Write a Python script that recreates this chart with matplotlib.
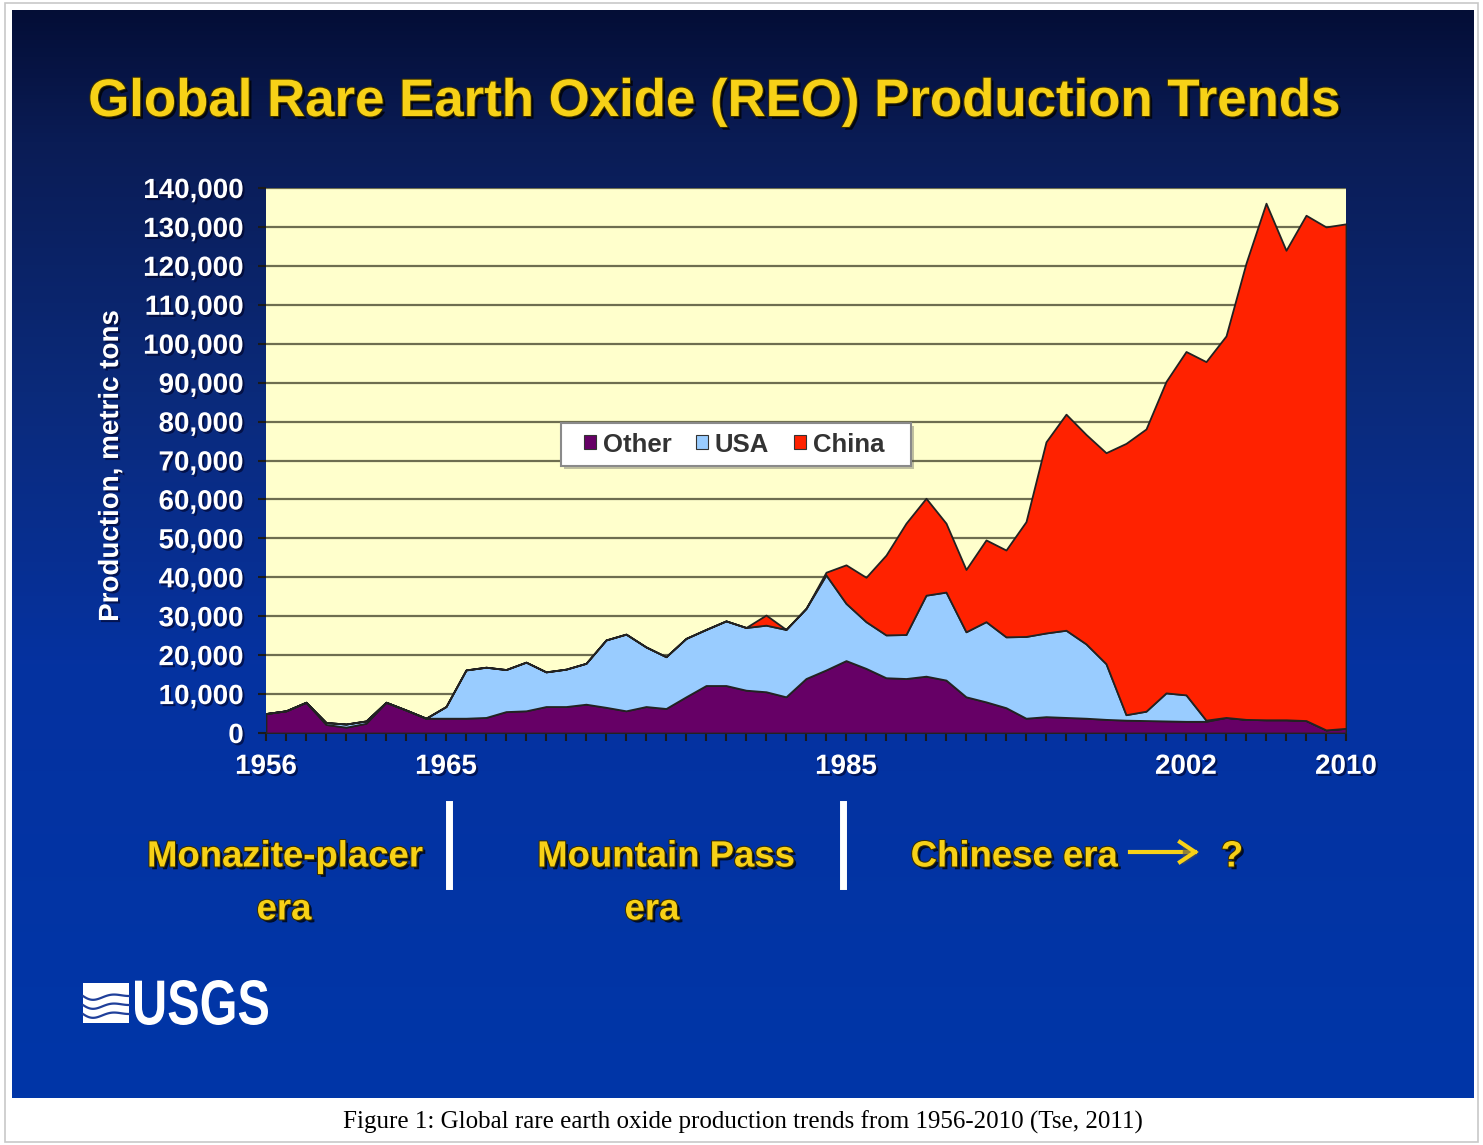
import numpy as np
import matplotlib
matplotlib.use("Agg")
import matplotlib.pyplot as plt
import matplotlib.patheffects as pe
from matplotlib.patches import Patch, Rectangle, PathPatch
from matplotlib.colors import LinearSegmentedColormap
from matplotlib.textpath import TextPath
from matplotlib.font_manager import FontProperties
from matplotlib.transforms import Affine2D, IdentityTransform
from matplotlib.lines import Line2D

# Data (metric tons of REO)
years = list(range(1956, 2011))
other = [5000, 5700, 7900, 2200, 1500, 2500, 7900, 5900, 3800, 3800,
         3800, 4000, 5500, 5700, 6800, 6800, 7400, 6600, 5700, 6800,
         6300, 9300, 12200, 12200, 11000, 10600, 9300, 14000, 16200, 18600,
         16600, 14200, 14000, 14600, 13600, 9300, 8000, 6500, 3800, 4200,
         4000, 3800, 3500, 3300, 3200, 3100, 3000, 3000, 4000, 3500,
         3400, 3400, 3200, 800, 1200]
usa = [0, 0, 0, 500, 800, 600, 0, 0, 0, 3000,
       12400, 12900, 10800, 12500, 8900, 9600, 10500, 17300, 19700, 15300,
       13300, 15000, 14400, 16600, 16100, 17100, 17300, 18000, 24400, 14700,
       12000, 11000, 11300, 20800, 22600, 16700, 20600, 18200, 21000, 21500,
       22400, 19100, 14300, 1400, 2400, 7200, 6800, 300, 0, 0,
       0, 0, 0, 0, 0]
china = [0] * 24 + [0, 2600, 0, 0, 700, 9900,
                    11400, 20500, 28600, 24900, 17700, 16000, 21000, 22300, 29500, 49100,
                    55500, 53800, 54200, 69700, 72500, 80000, 88200, 92100, 98000, 117200,
                    132700, 120600, 129800, 129200, 129600]
series_names = ["Other", "USA", "China"]
series_colors = ["#660066", "#99CCFF", "#FF2200"]
labeled_years = [1956, 1965, 1985, 2002, 2010]
y_ticks = list(range(0, 140001, 10000))

W, H = 1483, 1145


def fx(px):
    return px / W


def fy(py):
    return 1 - py / H


fig = plt.figure(figsize=(W / 100, H / 100), dpi=100)
fig.patch.set_facecolor("white")

# slide background (dark navy -> royal blue)
bg = fig.add_axes([fx(12), fy(1098), fx(1474) - fx(12), fy(10) - fy(1098)])
cmap = LinearSegmentedColormap.from_list(
    "slide", [(0, "#040e36"), (0.12, "#0a1c55"), (0.35, "#0b2a7a"),
              (0.6, "#0532a0"), (1.0, "#0036a8")])
grad = np.linspace(0, 1, 256).reshape(-1, 1)
bg.imshow(grad, aspect="auto", cmap=cmap, extent=[0, 1, 0, 1], origin="upper")
bg.axis("off")
bg.set_zorder(0)

# thin frame around the whole picture
fig.patches.append(Rectangle((fx(5), fy(1142)), fx(1478) - fx(5), fy(3) - fy(1142),
                             fill=False, edgecolor="#c8c8c8", linewidth=1.2,
                             transform=fig.transFigure))

# main chart
ax_w = fx(1346) - fx(266)
ax = fig.add_axes([fx(266), fy(733), ax_w, fy(188) - fy(733)])
ax.set_zorder(2)
ax.set_facecolor("#FFFFCC")
ax.stackplot(years, other, usa, china, colors=series_colors,
             edgecolor="#222222", linewidth=1.3, zorder=3)
ax.set_xlim(1956, 2010)
ax.set_ylim(0, 140000)
ax.set_yticks(y_ticks)
ax.set_yticklabels([f"{v:,}" for v in y_ticks])
ax.set_xticks(years)
ax.set_xticklabels([str(y) if y in labeled_years else "" for y in years])
ax.grid(axis="y", color="#6e6e50", linewidth=1.6, zorder=1)
ax.set_axisbelow(True)
for s in ax.spines.values():
    s.set_visible(False)
ax.tick_params(axis="both", colors="#1a1a1a", length=6, width=1.5)
ax.tick_params(axis="x", pad=9)
ax.tick_params(axis="y", pad=10)
shadow = [pe.withSimplePatchShadow(offset=(1.5, -1.5), shadow_rgbFace="#000022", alpha=0.6)]
for lab in ax.get_xticklabels() + ax.get_yticklabels():
    lab.set_color("white")
    lab.set_fontfamily("Liberation Sans")
    lab.set_fontweight("bold")
    lab.set_fontsize(20)
    lab.set_path_effects(shadow)

ax.set_ylabel("Production, metric tons", color="white", fontfamily="Liberation Sans",
              fontweight="bold", fontsize=20, labelpad=0, path_effects=shadow)
ax.yaxis.set_label_coords((124 - 266) / 1080, 0.49)

# legend: own frame box, entries without frame
ax.add_patch(Rectangle(((561 - 266) / 1080, (733 - 466) / 545), 350 / 1080, 43 / 545,
                       transform=ax.transAxes, facecolor="white", edgecolor="#8a8a8a",
                       linewidth=1.5, zorder=4,
                       path_effects=[pe.withSimplePatchShadow(offset=(2, -2), alpha=0.35)]))
handles = [Patch(facecolor=c, edgecolor="#333333", linewidth=0.8) for c in series_colors]
leg = ax.legend(handles, series_names, loc="center",
                bbox_to_anchor=((734 - 266) / 1080, (733 - 444.5) / 545),
                ncol=3, frameon=False,
                prop=FontProperties(family="Liberation Sans", weight="bold", size=18.5),
                labelcolor="#333333", handlelength=0.47, handleheight=0.47,
                handletextpad=0.27, columnspacing=0.95, borderpad=0.2)
leg.set_zorder(5)

# title
yellow = "#F7D117"
ysh = [pe.withSimplePatchShadow(offset=(2, -2), shadow_rgbFace="#000000", alpha=0.75),
       pe.withStroke(linewidth=1.5, foreground="#3a3000")]
fig.text(fx(713), fy(102), "Global Rare Earth Oxide (REO) Production Trends",
         ha="center", va="center", color=yellow, fontsize=38,
         fontfamily="Liberation Sans", fontweight="bold", path_effects=ysh)

# era captions
era_kw = dict(ha="center", va="center", color=yellow, fontsize=26.3,
              fontfamily="Liberation Sans", fontweight="bold", path_effects=ysh)
fig.text(fx(285), fy(857), "Monazite-placer", **era_kw)
fig.text(fx(284), fy(910), "era", **era_kw)
fig.text(fx(666), fy(857), "Mountain Pass", **era_kw)
fig.text(fx(652), fy(910), "era", **era_kw)
fig.text(fx(1014), fy(857), "Chinese era", **era_kw)
fig.text(fx(1232), fy(857), "?", **era_kw)
arrow_pe = [pe.withSimplePatchShadow(offset=(2, -2), alpha=0.6)]
fig.add_artist(Line2D([fx(1130), fx(1195)], [fy(852), fy(852)], color=yellow,
                      linewidth=3, transform=fig.transFigure, path_effects=arrow_pe))
fig.add_artist(Line2D([fx(1180), fx(1195), fx(1180)], [fy(842), fy(852), fy(862)],
                      color=yellow, linewidth=3, transform=fig.transFigure,
                      solid_joinstyle="miter", path_effects=arrow_pe))

# white era dividers
for xp in [449, 843]:
    fig.add_artist(Line2D([fx(xp), fx(xp)], [fy(804), fy(886)], color="white",
                          linewidth=5, transform=fig.transFigure, path_effects=arrow_pe))

# USGS logo
fig.patches.append(Rectangle((fx(83), fy(1023)), fx(129) - fx(83), fy(983) - fy(1023),
                             facecolor="white", edgecolor="none", transform=fig.transFigure))
tt = np.linspace(0, 1, 40)
for k in range(3):
    wy = 996 + k * 9 + 5 * np.sin(tt * 2 * np.pi) * (1 - tt)
    fig.add_artist(Line2D(fx(83 + tt * 46), fy(wy), color="#1f3f9a", linewidth=1.6,
                          transform=fig.transFigure))
tp = TextPath((0, 0), "USGS", size=1,
              prop=FontProperties(family="Liberation Sans", weight="bold"))
ext = tp.get_extents()
sx = (268 - 135) / ext.width
sy = 45 / ext.height
tr = Affine2D().translate(-ext.x0, -ext.y0).scale(sx, sy).translate(135, H - 1025)
fig.patches.append(PathPatch(tr.transform_path(tp), facecolor="white", edgecolor="none",
                             transform=IdentityTransform()))

# caption under the slide
fig.text(fx(743), fy(1122),
         "Figure 1: Global rare earth oxide production trends from 1956-2010 (Tse, 2011)",
         ha="center", va="center", color="black", fontsize=18,
         fontfamily="Liberation Serif")

fig.savefig("out.png", dpi=100, facecolor="white")
